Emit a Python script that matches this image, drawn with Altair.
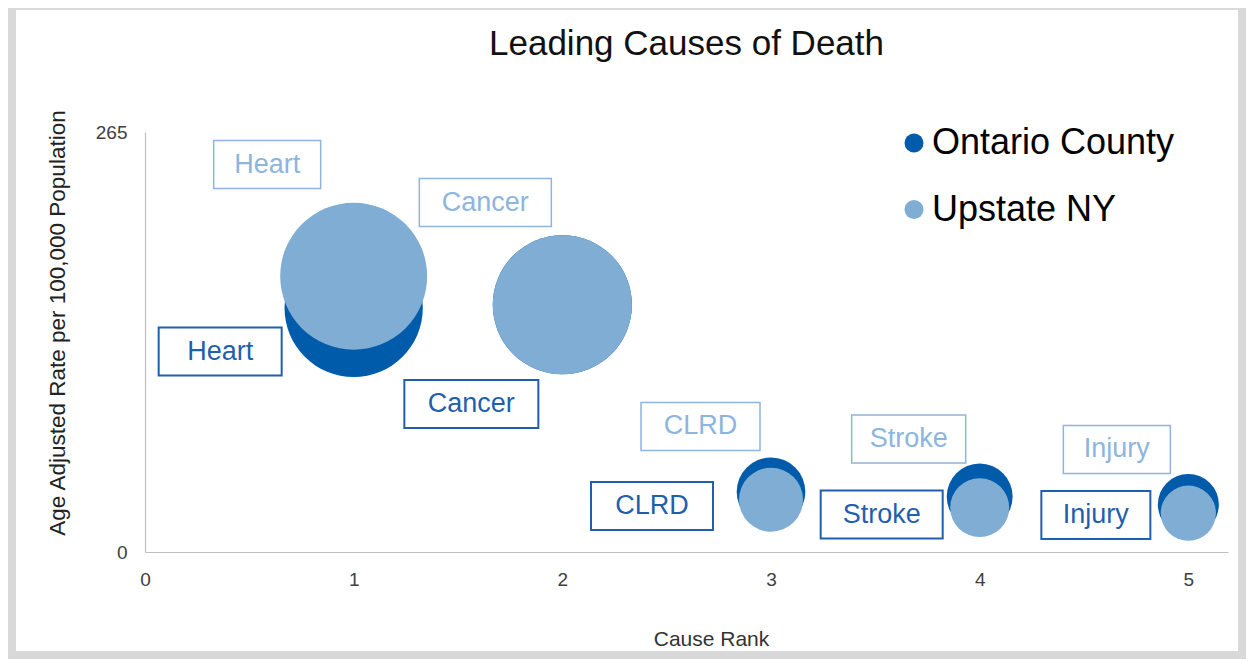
import altair as alt
import pandas as pd
import math

# ---------------- data ----------------
causes = ["Heart", "Cancer", "CLRD", "Stroke", "Injury"]
ranks = [1, 2, 3, 4, 5]
ontario = [154, 156, 38, 35, 30]
upstate = [174, 156, 33, 28, 24.5]
series = ["Ontario County", "Upstate NY"]

# ---------------- layout / style ----------------
W, H = 1083, 420
X_MAX, Y_MAX = 5.19, 265
PX_X = W / X_MAX
PX_Y = H / Y_MAX
DARK, LIGHT = "#005BAA", "#7FADD4"
DARK_TXT, LIGHT_TXT = "#1F5FAD", "#8DB5DD"
FONT = "Liberation Sans"
AREA_PER_UNIT = 97.5 * 4 / math.pi  # vega circle: r = sqrt(size)/2

# label box offsets from bubble centre (px, y down) and box widths (px)
up_off = [(-86.5, -111.7), (-77, -102.2), (-70.5, -73.2), (-71, -68.6), (-71.5, -63.7)]
on_off = [(-133.5, 43.6), (-91, 99.3), (-119, 14.2), (-98, 18), (-92.5, 10.6)]
up_w = [107, 132, 119, 114, 107]
on_w = [123, 134, 122, 122, 109]
BOX_H = 48

rows = []
for i, c in enumerate(causes):
    rows.append({"cause": c, "rank": ranks[i], "value": ontario[i], "series": series[0], "ord": 0})
for i, c in enumerate(causes):
    rows.append({"cause": c, "rank": ranks[i], "value": upstate[i], "series": series[1], "ord": 1})
bdf = pd.DataFrame(rows)

lab = []
for s, vals, offs, ws in [(series[0], ontario, on_off, on_w), (series[1], upstate, up_off, up_w)]:
    for i, c in enumerate(causes):
        cx = ranks[i] + offs[i][0] / PX_X
        cy = vals[i] - offs[i][1] / PX_Y
        lab.append({
            "cause": c, "series": s, "cx": cx, "cy": cy,
            "x1": cx - ws[i] / 2 / PX_X, "x2": cx + ws[i] / 2 / PX_X,
            "y1": cy - BOX_H / 2 / PX_Y, "y2": cy + BOX_H / 2 / PX_Y,
        })
ldf = pd.DataFrame(lab)

xscale = alt.Scale(domain=[0, X_MAX], nice=False, zero=True)
yscale = alt.Scale(domain=[0, Y_MAX], nice=False, zero=True)

bubbles = alt.Chart(bdf).mark_circle(opacity=1, strokeWidth=0).encode(
    x=alt.X("rank:Q", scale=xscale,
            axis=alt.Axis(values=[0, 1, 2, 3, 4, 5], format="d", title="Cause Rank",
                          ticks=False, grid=False, domainColor="#bfbfbf", domainWidth=1.2,
                          labelFont=FONT, labelFontSize=19, labelColor="#404040", labelPadding=18,
                          labelFlush=False,
                          titleFont=FONT, titleFontSize=21, titleFontWeight="normal", titleColor="#333333",
                          titleX=566, titleY=76, titleBaseline="top")),
    y=alt.Y("value:Q", scale=yscale,
            axis=alt.Axis(values=[0, 265], format="d",
                          title="Age Adjusted Rate per 100,000 Population",
                          ticks=False, grid=False, domainColor="#bfbfbf", domainWidth=1.2,
                          labelFont=FONT, labelFontSize=19, labelColor="#404040", labelPadding=18,
                          labelFlush=False,
                          titleFont=FONT, titleFontSize=22.5, titleFontWeight="normal", titleColor="#222222",
                          titleX=-87.5, titleY=190.5, titleBaseline="middle", titleAngle=270)),
    size=alt.Size("value:Q", scale=alt.Scale(domain=[0, Y_MAX], range=[0, Y_MAX * AREA_PER_UNIT]), legend=None),
    color=alt.Color("series:N", scale=alt.Scale(domain=series, range=[DARK, LIGHT]),
                    legend=alt.Legend(title=None, orient="none", legendX=751, legendY=-7,
                                      symbolType="circle", symbolSize=361, symbolStrokeWidth=0,
                                      labelFont=FONT, labelFontSize=36, labelColor="#000000",
                                      labelLimit=500, labelOffset=0, rowPadding=30.5, padding=0)),
    order=alt.Order("ord:Q"),
)

def boxes(s, col, sw):
    base = alt.Chart(ldf).transform_filter(alt.datum.series == s)
    r = base.mark_rect(fillOpacity=0, stroke=col, strokeWidth=sw).encode(
        x=alt.X("x1:Q", scale=xscale), x2="x2:Q",
        y=alt.Y("y1:Q", scale=yscale), y2="y2:Q",
    )
    t = base.mark_text(font=FONT, fontSize=27, color=col, align="center", baseline="middle").encode(
        x=alt.X("cx:Q", scale=xscale), y=alt.Y("cy:Q", scale=yscale), text="cause:N",
    )
    return r + t

frame = alt.Chart(bdf).mark_rect(fillOpacity=0, stroke="#d9d9d9", strokeWidth=8).encode(
    x=alt.value(-133), x2=alt.value(1097), y=alt.value(-126.5), y2=alt.value(523)
)

chart = alt.layer(
    frame, bubbles, boxes(series[0], DARK_TXT, 2), boxes(series[1], LIGHT_TXT, 1.5)
).properties(
    width=W, height=H,
    title=alt.TitleParams("Leading Causes of Death", font=FONT, fontSize=35, fontWeight="normal",
                          color="#111111", anchor="middle", frame="group", baseline="alphabetic", offset=-88.5),
    autosize=alt.AutoSizeParams(type="none"),
    padding={"left": 137, "top": 124, "right": 18, "bottom": 107},
    background="white",
).configure_view(stroke=None)

chart.save("out.html", embed_options={"renderer": "svg", "actions": False})
